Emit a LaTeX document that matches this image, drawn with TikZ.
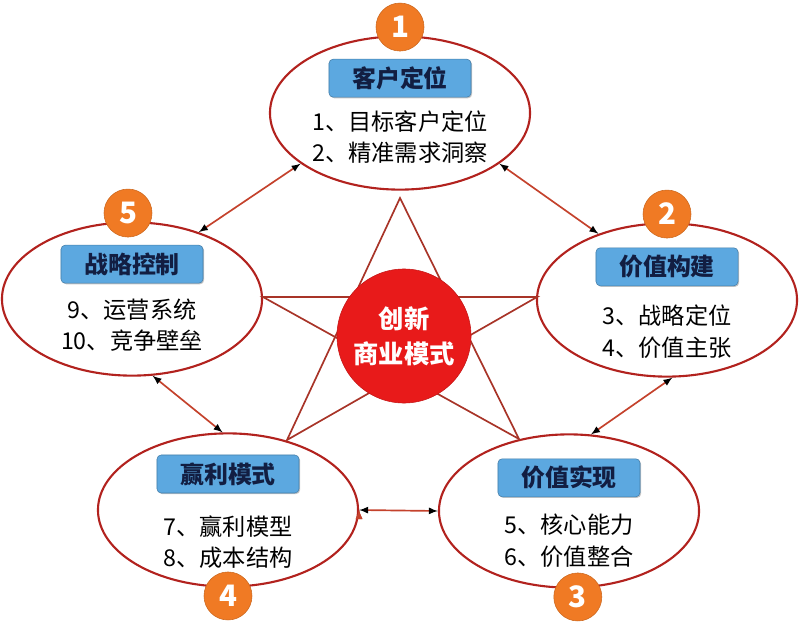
\documentclass[tikz,border=0pt]{standalone}
\usepackage{fontspec}
\setmainfont{Noto Sans CJK SC}
\usetikzlibrary{shapes,arrows,shadows,positioning,calc}
\definecolor{ringred}{RGB}{178,34,30}
\definecolor{starred}{RGB}{168,52,40}
\definecolor{arrowred}{RGB}{196,66,44}
\definecolor{badgeorange}{RGB}{240,122,36}
\definecolor{boxblue}{RGB}{92,168,224}
\definecolor{boxtext}{RGB}{18,30,66}
\definecolor{corered}{RGB}{232,26,26}
\tikzstyle{ring}=[ellipse,
                  line width=1.5pt,
                  draw=ringred,
                  minimum width=6.5cm,
                  minimum height=3.83cm,
                  inner sep=0pt]
\tikzstyle{badge}=[circle,
                   thin,
                   minimum size=1.2cm,
                   inner sep=0pt,
                   draw=badgeorange!85!black,
                   fill=badgeorange,
                   text=white,
                   font=\fontsize{21}{21}\selectfont\bfseries]
\tikzstyle{titlebox}=[rounded corners=3pt,
                      minimum width=3.55cm,
                      minimum height=0.95cm,
                      draw=boxblue!75!black,
                      fill=boxblue,
                      text=boxtext,
                      font=\fontsize{17}{17}\selectfont\bfseries,
                      drop shadow={shadow xshift=0.8pt,shadow yshift=-0.8pt,opacity=0.45}]
\tikzstyle{items}=[align=center,font=\fontsize{16.5}{22.5}\selectfont]
\tikzstyle{link}=[latex-latex,line width=1.2pt,draw=arrowred]
\tikzstyle{starline}=[line width=1.2pt,draw=starred]
\begin{document}
\begin{tikzpicture}[x=0.025cm,y=-0.025cm]
    \useasboundingbox (0,0) rectangle (800,629);
    % the five rings
    \node[ring] (e1) at (400,113) {};
    \node[ring] (e2) at (667,300) {};
    \node[ring] (e3) at (569,511) {};
    \node[ring] (e4) at (228,510) {};
    \node[ring] (e5) at (132,299) {};
    % star behind the core
    \coordinate (s1) at (400,198);
    \coordinate (s2) at (537,297);
    \coordinate (s3) at (519,439);
    \coordinate (s4) at (287,440);
    \coordinate (s5) at (263,297);
    \draw[starline] (s1) -- (s3) -- (s5) -- (s2) -- (s4) -- cycle;
    \node[circle, fill=corered, draw=corered!85!black, minimum size=3.35cm, inner sep=0pt, text=white, align=center, font=\fontsize{18}{25}\selectfont\bfseries] (core) at (404,336) {创新\\商业模式};
    \path[link] (e1.207) edge (e5.45)
   (e1.333) edge (e2.136)
   (e5.285) edge (e4.94)
   (e2.274) edge (e3.74)
   (e4.east) edge (e3.west);
    % badges
    \node[badge, above=-0.4cm of e1] (b1) {1};
    \node[badge, above=-0.4cm of e2] (b2) {2};
    \node[badge, below=-0.4cm of e3, xshift=0.22cm] (b3) {3};
    \node[badge, below=-0.4cm of e4] (b4) {4};
    \node[badge, above=-0.4cm of e5, xshift=-0.1cm] (b5) {5};
    % titles and items
    \node[titlebox] (t1) at ([yshift=0.87cm]e1.center) {客户定位};
    \node[items] (i1) at ([yshift=-0.6cm]e1.center) {1、目标客户定位\\2、精准需求洞察};
    \node[titlebox] (t2) at ([yshift=0.83cm]e2.center) {价值构建};
    \node[items] (i2) at ([yshift=-0.8cm]e2.center) {3、战略定位\\4、价值主张};
    \node[titlebox] (t3) at ([yshift=0.83cm]e3.center) {价值实现};
    \node[items] (i3) at ([yshift=-0.75cm]e3.center) {5、核心能力\\6、价值整合};
    \node[titlebox] (t4) at ([yshift=0.9cm]e4.center) {赢利模式};
    \node[items] (i4) at ([yshift=-0.8cm]e4.center) {7、赢利模型\\8、成本结构};
    \node[titlebox] (t5) at ([yshift=0.87cm]e5.center) {战略控制};
    \node[items] (i5) at ([yshift=-0.65cm]e5.center) {9、运营系统\\10、竞争壁垒};
\end{tikzpicture}
\end{document}
